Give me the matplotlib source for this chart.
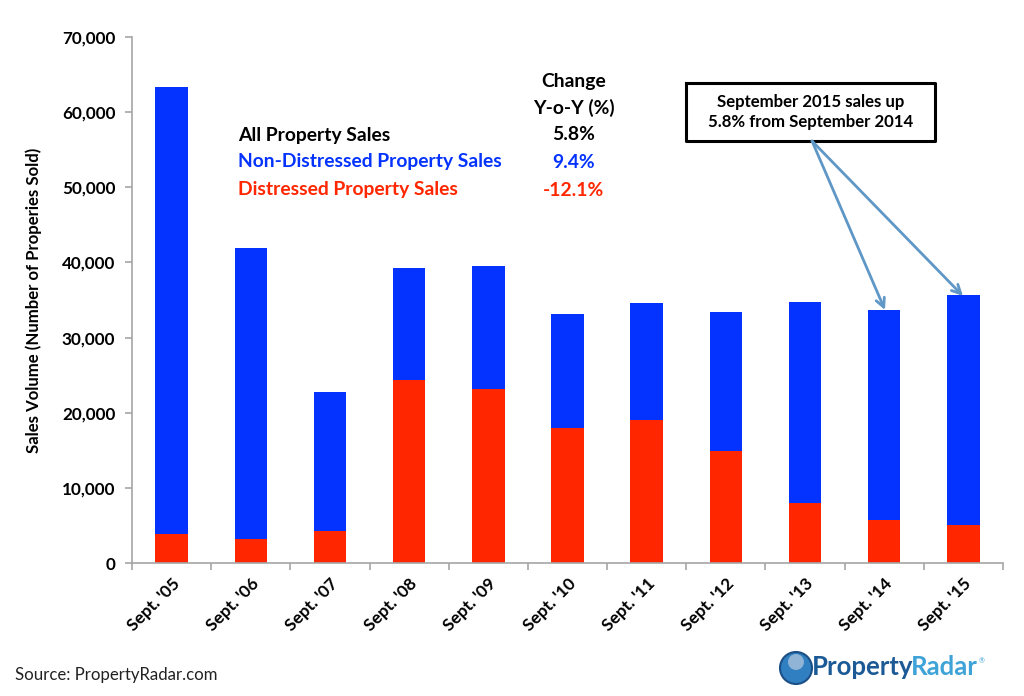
import matplotlib
matplotlib.use('Agg')
import matplotlib.pyplot as plt
from matplotlib.patches import Circle

plt.rcParams['font.family'] = ['Lato', 'DejaVu Sans']

# Data
labels = ["Sept. '05", "Sept. '06", "Sept. '07", "Sept. '08", "Sept. '09", "Sept. '10",
          "Sept. '11", "Sept. '12", "Sept. '13", "Sept. '14", "Sept. '15"]
distressed = [3900, 3200, 4200, 24400, 23100, 18000, 19000, 14900, 8000, 5700, 5000]
non_distressed = [59450, 38750, 18500, 14850, 16450, 15150, 15650, 18500, 26750, 28000, 30650]
yticks = [0, 10000, 20000, 30000, 40000, 50000, 60000, 70000]

fig = plt.figure(figsize=(10.24, 6.96), dpi=100)
ax = fig.add_axes([132 / 1024, 1 - 563 / 696, (1003 - 132) / 1024, (563 - 37) / 696])

x = list(range(len(labels)))
ax.bar(x, distressed, width=0.41, color='#ff2600')
ax.bar(x, non_distressed, width=0.41, bottom=distressed, color='#0433ff')

ax.set_xlim(-0.5, 10.5)
ax.set_ylim(0, 70000)
ax.set_yticks(yticks)
ax.set_yticklabels([f'{v:,}' for v in yticks], fontsize=12.3, fontweight='bold')
ax.set_xticks(x)
ax.set_xticklabels(labels, rotation=45, ha='right', rotation_mode='anchor', fontsize=12.4, fontweight='bold')
ax.set_xticks([i - 0.5 for i in range(len(labels) + 1)], minor=True)
ax.set_ylabel('Sales Volume (Number of Properies Sold)', fontsize=12.1, fontweight='bold', labelpad=14)
ax.tick_params(axis='x', which='major', length=0, pad=9)
ax.tick_params(axis='x', which='minor', length=5, color='#a6a6a6', width=1.2)
ax.tick_params(axis='y', length=5, color='#a6a6a6', width=1.2, direction='out', pad=7)
for s in ['top', 'right']:
    ax.spines[s].set_visible(False)
for s in ['left', 'bottom']:
    ax.spines[s].set_color('#a6a6a6')
    ax.spines[s].set_linewidth(1.2)

# Year over year table
def ftext(px, py, s, **kw):
    fig.text(px / 1024, 1 - py / 696, s, va='center', fontweight='bold', **kw)

ftext(238, 135, 'All Property Sales', fontsize=13.9, color='black')
ftext(238, 162, 'Non-Distressed Property Sales', fontsize=13.9, color='#0433ff')
ftext(238, 190, 'Distressed Property Sales', fontsize=13.9, color='#ff2600')
ftext(574, 81, 'Change', fontsize=13.9, color='black', ha='center')
ftext(574, 108, 'Y-o-Y (%)', fontsize=13.9, color='black', ha='center')
ftext(574, 135, '5.8%', fontsize=13.9, color='black', ha='center')
ftext(574, 162, '9.4%', fontsize=13.9, color='#0433ff', ha='center')
ftext(574, 190, '-12.1%', fontsize=13.9, color='#ff2600', ha='center')

# Callout and arrows, in pixel coordinates of the figure
overlay = fig.add_axes([0, 0, 1, 1], facecolor='none')
overlay.set_xlim(0, 1024)
overlay.set_ylim(696, 0)
overlay.axis('off')
for tip in [(885, 310), (963, 296)]:
    overlay.annotate('', xy=tip, xytext=(812, 141),
                     arrowprops=dict(arrowstyle='->', color='#5f97c6', lw=2, mutation_scale=16,
                                     shrinkA=0, shrinkB=0))
overlay.text(811, 112, 'September 2015 sales up\n5.8% from September 2014', ha='center', va='center',
             fontsize=12.1, fontweight='bold', color='black', linespacing=1.25)
overlay.plot([686, 935, 935, 686, 686], [83, 83, 141, 141, 83], color='black', lw=2.2)

# Source and logo
overlay.text(15, 675, 'Source: PropertyRadar.com', fontsize=12.1, color='#222222', va='center')
overlay.add_patch(Circle((796, 668), 16, fc='#2f7fc1', ec='#1c4f86', lw=1.5))
overlay.add_patch(Circle((796, 662), 8, fc='#8fb4d6', ec='none'))
overlay.text(812, 667, 'Property', fontsize=18.5, fontweight='bold', color='#1c5a96', va='center')
overlay.text(911, 667, 'Radar', fontsize=18.5, fontweight='bold', color='#3fa3d8', va='center')
overlay.text(979, 661, '®', fontsize=5, color='#3fa3d8', va='center')

fig.savefig('out.png', dpi=100)
